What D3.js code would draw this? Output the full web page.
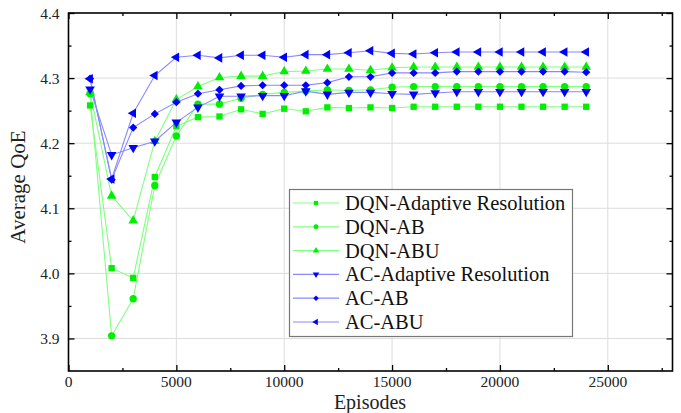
<!DOCTYPE html>
<html><head><meta charset="utf-8">
<script src="https://cdn.jsdelivr.net/npm/d3@7"></script>
<style>body{margin:0;background:#fff}svg{display:block}</style>
</head><body>
<svg id="c" width="681" height="413"></svg>
<script>
const episodes = d3.range(1000, 24001, 1000);
const seriesNames = ["DQN-Adaptive Resolution","DQN-AB","DQN-ABU","AC-Adaptive Resolution","AC-AB","AC-ABU"];
const dqnAR  = [4.258,4.008,3.993,4.148,4.226,4.240,4.241,4.252,4.245,4.253,4.249,4.255,4.254,4.255,4.254,4.256,4.256,4.256,4.256,4.256,4.256,4.256,4.256,4.256];
const dqnAB  = [4.276,3.904,3.961,4.135,4.211,4.260,4.260,4.269,4.275,4.278,4.280,4.282,4.281,4.282,4.286,4.287,4.287,4.287,4.287,4.287,4.287,4.287,4.287,4.287];
const dqnABU = [4.278,4.119,4.081,4.203,4.267,4.287,4.301,4.303,4.303,4.310,4.311,4.314,4.314,4.312,4.316,4.317,4.317,4.317,4.317,4.317,4.317,4.317,4.317,4.317];
const acAR   = [4.283,4.182,4.193,4.203,4.232,4.255,4.272,4.272,4.273,4.273,4.280,4.275,4.278,4.278,4.276,4.275,4.277,4.279,4.279,4.279,4.279,4.279,4.279,4.279];
const acAB   = [4.299,4.144,4.224,4.245,4.263,4.276,4.282,4.288,4.289,4.289,4.289,4.293,4.302,4.302,4.308,4.308,4.308,4.310,4.310,4.310,4.310,4.310,4.310,4.309];
const acABU  = [4.299,4.145,4.246,4.304,4.332,4.335,4.331,4.335,4.335,4.332,4.336,4.336,4.339,4.342,4.338,4.337,4.339,4.340,4.340,4.340,4.340,4.340,4.340,4.340];
const xTicks = [0,5000,10000,15000,20000,25000];
const yTicks = [3.9,4.0,4.1,4.2,4.3,4.4];

const allSeries = [dqnAR,dqnAB,dqnABU,acAR,acAB,acABU];
const green = "#00ee00", greenLine = "#80ff80", blue = "#0000ff", blueLine = "#8888ff";
const styles = [
  {c:green,l:greenLine,sym:d3.symbolSquare,size:40,rot:0},
  {c:green,l:greenLine,sym:d3.symbolCircle,size:42,rot:0},
  {c:green,l:greenLine,sym:d3.symbolTriangle,size:40,rot:0},
  {c:blue,l:blueLine,sym:d3.symbolTriangle,size:40,rot:180},
  {c:blue,l:blueLine,sym:d3.symbolSquare,size:34,rot:45},
  {c:blue,l:blueLine,sym:d3.symbolTriangle,size:40,rot:-90}
];

const svg = d3.select("#c");
const L=68.5,R=672.5,T=13,B=371;
const x = d3.scaleLinear().domain([0,28000]).range([L,R]);
const y = d3.scaleLinear().domain([3.85,4.4]).range([B,T]);
const font = "'Liberation Serif', 'Times New Roman', serif";

// grid
svg.append("g").selectAll("line").data(xTicks.filter(d=>d>0)).join("line")
  .attr("x1",d=>x(d)).attr("x2",d=>x(d)).attr("y1",T).attr("y2",B)
  .attr("stroke","#dcdcdc").attr("stroke-width",1);
svg.append("g").selectAll("line").data(yTicks.filter(d=>d<4.4)).join("line")
  .attr("y1",d=>y(d)).attr("y2",d=>y(d)).attr("x1",L).attr("x2",R)
  .attr("stroke","#dcdcdc").attr("stroke-width",1);

// axes with inward ticks
const xMinor = d3.range(2500, 28000, 5000);
const yMinor = [3.95,4.05,4.15,4.25,4.35];
function mk(axis, ticks, len){ return axis.tickValues(ticks).tickSizeInner(len).tickSizeOuter(0).tickFormat(""); }
const axG = svg.append("g");
axG.append("g").attr("transform",`translate(0,${B})`).call(mk(d3.axisTop(x),xTicks,6));
axG.append("g").attr("transform",`translate(0,${B})`).call(mk(d3.axisTop(x),xMinor,3));
axG.append("g").attr("transform",`translate(0,${T})`).call(mk(d3.axisBottom(x),xTicks,6));
axG.append("g").attr("transform",`translate(0,${T})`).call(mk(d3.axisBottom(x),xMinor,3));
axG.append("g").attr("transform",`translate(${L},0)`).call(mk(d3.axisRight(y),yTicks,6));
axG.append("g").attr("transform",`translate(${L},0)`).call(mk(d3.axisRight(y),yMinor,3));
axG.append("g").attr("transform",`translate(${R},0)`).call(mk(d3.axisLeft(y),yTicks,6));
axG.append("g").attr("transform",`translate(${R},0)`).call(mk(d3.axisLeft(y),yMinor,3));
axG.selectAll(".domain").remove();
axG.selectAll("line").attr("stroke","#000").attr("stroke-width",1.3);
svg.append("rect").attr("x",L).attr("y",T).attr("width",R-L).attr("height",B-T)
  .attr("fill","none").attr("stroke","#000").attr("stroke-width",1.6);

// tick labels
svg.append("g").selectAll("text").data(xTicks).join("text")
  .attr("x",d=>x(d)).attr("y",B+16).attr("text-anchor","middle")
  .attr("font-family",font).attr("font-size",15.5).attr("fill","#222").text(d=>d);
svg.append("g").selectAll("text").data(yTicks).join("text")
  .attr("x",L-9).attr("y",d=>y(d)+5.5).attr("text-anchor","end")
  .attr("font-family",font).attr("font-size",15.5).attr("fill","#222").text(d=>d.toFixed(1));
svg.append("text").attr("x",370).attr("y",408.5).attr("text-anchor","middle")
  .attr("font-family",font).attr("font-size",20).attr("fill","#222").text("Episodes");
svg.append("text").attr("transform",`translate(25,187) rotate(-90)`).attr("text-anchor","middle")
  .attr("font-family",font).attr("font-size",21).attr("fill","#222").text("Average QoE");

// series
const line = d3.line().x((d,i)=>x(episodes[i])).y(d=>y(d));
const sg = svg.append("g");
allSeries.forEach((s,k)=>{
  sg.append("path").datum(s).attr("d",line).attr("fill","none")
    .attr("stroke",styles[k].l).attr("stroke-width",1.1);
});
allSeries.forEach((s,k)=>{
  const st = styles[k];
  sg.append("g").selectAll("path").data(s).join("path")
    .attr("d",d3.symbol(st.sym,st.size))
    .attr("transform",(d,i)=>`translate(${x(episodes[i])},${y(d)}) rotate(${st.rot})`)
    .attr("fill",st.c);
});

// legend
const lg = svg.append("g");
lg.append("rect").attr("x",289.5).attr("y",189.5).attr("width",283).attr("height",147)
  .attr("fill","#fff").attr("stroke","#777").attr("stroke-width",1.2);
seriesNames.forEach((n,k)=>{
  const st = styles[k]; const yy = 203 + k*23.8;
  lg.append("line").attr("x1",293).attr("x2",339).attr("y1",yy).attr("y2",yy)
    .attr("stroke",st.l).attr("stroke-width",1.2);
  lg.append("path").attr("d",d3.symbol(st.sym,st.size*0.45))
    .attr("transform",`translate(316,${yy}) rotate(${st.rot})`).attr("fill",st.c);
  lg.append("text").attr("x",345).attr("y",yy+7).attr("font-family",font)
    .attr("font-size",20.5).attr("fill","#111").text(n);
});
</script>
</body></html>
